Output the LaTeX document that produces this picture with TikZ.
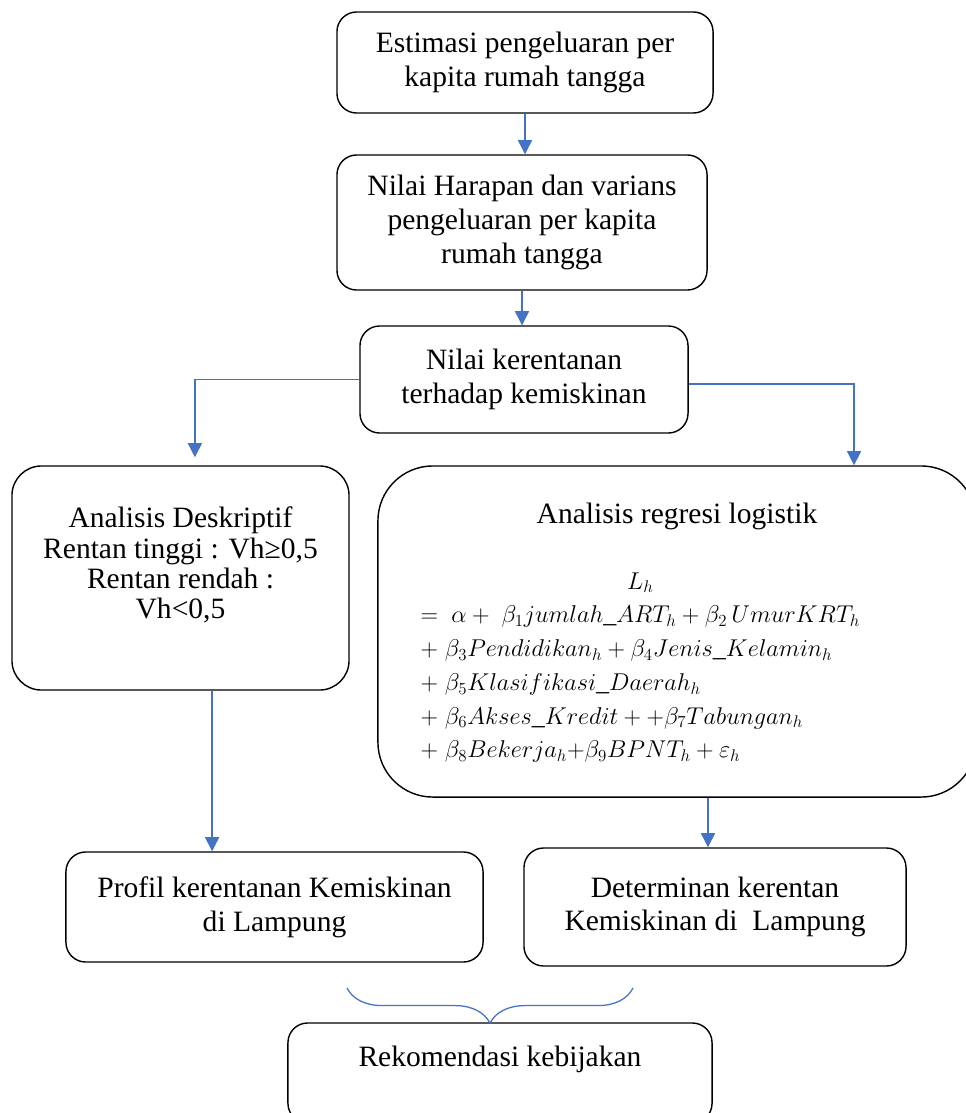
\documentclass[tikz,border=0pt]{standalone}
\usepackage{fontspec}
\setmainfont{Liberation Serif}
\usepackage{tikz}
\usetikzlibrary{arrows.meta,decorations.pathreplacing}

\definecolor{flowblue}{RGB}{68,114,196}
\tikzset{
  procbox/.style={draw, line width=1pt, rounded corners=14pt, align=center, inner sep=0pt},
  flowline/.style={draw=flowblue, line width=0.9pt, -{Triangle[width=10pt,length=10pt]}},
}

\begin{document}
\begin{tikzpicture}[x=0.025cm, y=-0.025cm, font=\fontsize{21}{24}\selectfont]
            \useasboundingbox (0,0) rectangle (966,1113);
            \clip (0,0) rectangle (966,1113);

            \node[procbox, minimum width=9.4cm, minimum height=2.525cm] (estimasi) at (525,62.5) {Estimasi pengeluaran per\\kapita rumah tangga};
            \node[procbox, minimum width=9.25cm, minimum height=3.375cm] (harapan) at (522,222.5) {Nilai Harapan dan varians\\pengeluaran per kapita\\rumah tangga};
            \node[procbox, minimum width=8.2cm, minimum height=2.675cm] (rentan) at (524,379.5) {Nilai kerentanan\\terhadap kemiskinan};

            \node[procbox, rounded corners=21pt, minimum width=8.425cm, minimum height=5.6cm, font=\fontsize{21}{21.5}\selectfont] (deskriptif) at (180.5,578) {Analisis Deskriptif\\Rentan tinggi : Vh≥0,5\\Rentan rendah :\\Vh<0,5\\\mbox{}};
            \node[procbox, rounded corners=39pt, minimum width=14.95cm, minimum height=8.275cm] (regresi) at (677,631.5) {Analisis regresi logistik\\[24pt]
              {\fontsize{18.5}{24}\selectfont
              \begin{tabular}{@{}l@{}}
                \multicolumn{1}{@{}c@{}}{$L_h$}\\
                $=\ \alpha +\ \beta_1 jumlah\_ART_h + \beta_2\, UmurKRT_h$\\
                $+\;\beta_3 Pendidikan_h + \beta_4 Jenis\_Kelamin_h$\\
                $+\;\beta_5 Klasifikasi\_Daerah_h$\\
                $+\;\beta_6 Akses\_Kredit + +\beta_7 Tabungan_h$\\
                $+\;\beta_8 Bekerja_h{+}\beta_9 BPNT_h + \varepsilon_h$
              \end{tabular}}\rule{52pt}{0pt}\\[-7pt]\mbox{}};

            \node[procbox, minimum width=10.425cm, minimum height=2.75cm] (profil) at (274.5,907) {Profil kerentanan Kemiskinan\\di Lampung};
            \node[procbox, minimum width=9.55cm, minimum height=2.95cm] (determinan) at (715,907) {Determinan kerentan\\Kemiskinan di\ \ Lampung};
            \node[procbox, minimum width=10.6cm, minimum height=2.5cm] (rekomendasi) at (500,1073) {Rekomendasi kebijakan\\\mbox{}};

            \draw[flowline] (estimasi.south) -- (estimasi.south |- harapan.north);
            \draw[flowline] (harapan.south) -- (harapan.south |- rentan.north);
            \draw[flowline] (rentan.west) -| ([xshift=0.36cm,yshift=0.2cm]deskriptif.north);
            \draw[flowline] ([yshift=-0.11cm]rentan.east) -| ([xshift=4.425cm]regresi.north);
            \draw[flowline] ([xshift=0.79cm]deskriptif.south) -- ([xshift=0.79cm]deskriptif.south |- profil.north);
            \draw[flowline] ([xshift=0.775cm]regresi.south) -- ([xshift=0.775cm]regresi.south |- determinan.north);

            \coordinate (kiri) at (347,988);
            \coordinate (kanan) at (633,988);
            \draw[flowblue, line width=0.9pt, decorate, decoration={brace, mirror, amplitude=25pt}] (kiri) -- (kanan);
         \end{tikzpicture}
\end{document}
